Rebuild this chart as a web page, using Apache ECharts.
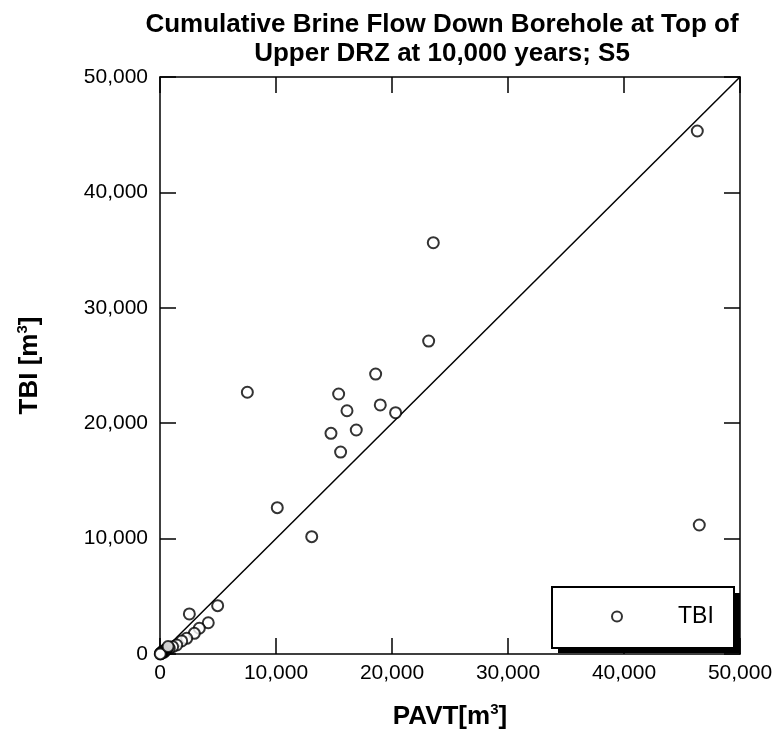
<!DOCTYPE html>
<html><head><meta charset="utf-8">
<script src="https://cdn.jsdelivr.net/npm/echarts@6/dist/echarts.min.js"></script>
<style>html,body{margin:0;padding:0;background:#fff}#c{width:776px;height:738px}</style>
</head><body><div id="c"></div>
<script>
const titleLines = ['Cumulative Brine Flow Down Borehole at Top of', 'Upper DRZ at 10,000 years; S5'];
const seriesName = 'TBI';
const pavt = [46320, 46490, 23560, 23160, 18590, 15400, 16120, 18990, 20310, 14740, 16920, 15570, 7530, 13080, 10110, 4970, 2530, 4160, 3390, 2960, 2300, 1870, 1440, 1090, 800, 600, 500, 400, 350, 300, 250, 200, 150, 100, 60, 50, 20, 700];
const tbi  = [45320, 11180, 35640, 27120, 24260, 22530, 21080, 21580, 20910, 19120, 19410, 17500, 22680, 10170, 12680, 4190, 3470, 2710, 2230, 1790, 1360, 1130, 780, 630, 500, 450, 350, 300, 150, 200, 250, 150, 100, 50, 80, 30, 10, 650];
const diagX = [0, 50000];
const diagY = [0, 50000];
const axisMin = 0, axisMax = 50000, axisStep = 10000;

const chart = echarts.init(document.getElementById('c'));
const fmt = v => v === 0 ? '0' : v.toLocaleString('en-US');
const ff = 'Liberation Sans, Arial, sans-serif';
const tickStyle = {show: true, inside: true, length: 16, lineStyle: {color: '#000', width: 1.5}};
const lineStyle = {show: true, onZero: false, lineStyle: {color: '#000', width: 1.5}};
const nameStyle = {fontFamily: ff, fontWeight: 'bold', fontSize: 26, color: '#000',
  rich: {sup: {fontFamily: ff, fontWeight: 'bold', fontSize: 15, color: '#000', padding: [0, 0, 14, 0]}}};
chart.setOption({
  backgroundColor: '#fff',
  animation: false,
  title: {
    text: titleLines.join('\n'), left: 437, top: 5, textAlign: 'center',
    textStyle: {fontFamily: ff, fontWeight: 'bold', fontSize: 26, lineHeight: 29, color: '#000'}
  },
  grid: {left: 160, right: 36, top: 77, bottom: 84},
  graphic: [
    {type: 'rect', shape: {x: 558, y: 593, width: 182, height: 60}, style: {fill: '#000'}, z: 10},
    {type: 'rect', shape: {x: 552, y: 587, width: 182, height: 61}, style: {fill: '#fff', stroke: '#000', lineWidth: 2}, z: 11}
  ],
  legend: {
    show: true, left: 611, top: 605, orient: 'horizontal', z: 12,
    data: [seriesName], itemWidth: 10, itemHeight: 10, padding: 0,
    textStyle: {fontFamily: ff, fontSize: 23, color: '#000', padding: [0, 0, 0, 51]}
  },
  xAxis: [
    {type: 'value', min: axisMin, max: axisMax, interval: axisStep, position: 'bottom',
     name: 'PAVT[m{sup|3}]', nameLocation: 'middle', nameGap: 48, nameTextStyle: nameStyle,
     axisLine: lineStyle, axisTick: tickStyle, splitLine: {show: false},
     axisLabel: {formatter: fmt, fontFamily: ff, fontSize: 21, color: '#000', margin: 9}},
    {type: 'value', min: axisMin, max: axisMax, interval: axisStep, position: 'top',
     axisLine: lineStyle, axisTick: tickStyle, axisLabel: {show: false}, splitLine: {show: false}}
  ],
  yAxis: [
    {type: 'value', min: axisMin, max: axisMax, interval: axisStep, position: 'left',
     name: 'TBI [m{sup|3}]', nameLocation: 'middle', nameGap: 116, nameRotate: 90, nameTextStyle: nameStyle,
     axisLine: lineStyle, axisTick: tickStyle, splitLine: {show: false},
     axisLabel: {formatter: fmt, fontFamily: ff, fontSize: 21, color: '#000', margin: 12}},
    {type: 'value', min: axisMin, max: axisMax, interval: axisStep, position: 'right',
     axisLine: lineStyle, axisTick: tickStyle, axisLabel: {show: false}, splitLine: {show: false}}
  ],
  series: [
    {type: 'line', data: diagX.map((x, i) => [x, diagY[i]]), showSymbol: false, symbol: 'none',
     lineStyle: {color: '#000', width: 1.5}, silent: true, z: 1, legendHoverLink: false},
    {name: seriesName, type: 'scatter', data: pavt.map((x, i) => [x, tbi[i]]),
     symbol: 'emptyCircle', symbolSize: 11,
     itemStyle: {color: '#000', borderWidth: 1.5}, z: 3, clip: false}
  ]
});
</script></body></html>
